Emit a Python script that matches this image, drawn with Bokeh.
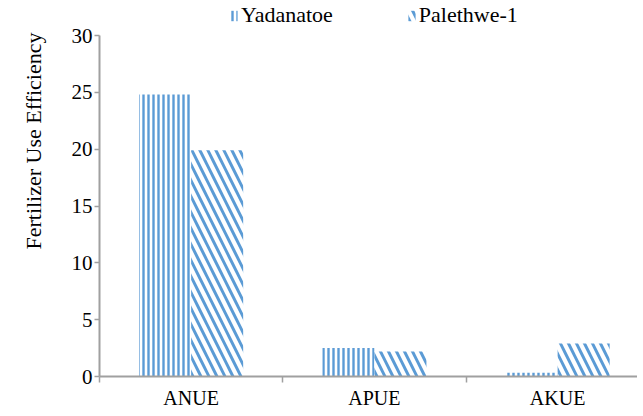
from bokeh.plotting import figure
from bokeh.models import Range1d, FixedTicker, Legend, LegendItem, Title
from bokeh.embed import file_html
from bokeh.resources import INLINE

categories = ["ANUE", "APUE", "AKUE"]
series_names = ["Yadanatoe", "Palethwe-1"]
yadanatoe = [24.8, 2.5, 0.33]
palethwe = [19.9, 2.2, 2.9]
y_ticks = [0, 5, 10, 15, 20, 25, 30]
y_title = "Fertilizer Use Efficiency"

FONT = "Liberation Serif"
BLUE = "#5B9BD5"
GRAY = "#A0A0A0"

FW = 538
cat_px = 183.25
x_end = FW / cat_px
px_per_unit = 341.0 / 30
FH = 374
y_top = FH / px_per_unit

p = figure(frame_width=FW, frame_height=FH, output_backend="svg", toolbar_location=None,
           x_range=Range1d(0, x_end), y_range=Range1d(0, y_top),
           min_border_left=0, min_border_right=0,
           min_border_top=2, min_border_bottom=36)

bar_w = 0.284
centers = [i + 0.5 for i in range(len(categories))]
xa = [c - bar_w / 2 for c in centers]
xb = [c + bar_w / 2 for c in centers]

r1 = p.vbar(x=xa, top=yadanatoe, width=bar_w, bottom=0,
            fill_color="white", line_color=None,
            hatch_pattern="|", hatch_color=BLUE, hatch_scale=5, hatch_weight=2.4)
r2 = p.vbar(x=xb, top=palethwe, width=bar_w, bottom=0,
            fill_color="white", line_color=None,
            hatch_pattern="\\", hatch_color=BLUE, hatch_scale=16, hatch_weight=3)

p.xgrid.visible = False
p.ygrid.visible = False
p.outline_line_color = None
p.background_fill_color = "white"

xax = p.xaxis[0]
xax.ticker = FixedTicker(ticks=centers, minor_ticks=[0, 1, 2, 3])
xax.major_label_overrides = {c: n for c, n in zip(centers, categories)}
xax.major_tick_line_color = None
xax.minor_tick_line_color = GRAY
xax.minor_tick_out = 6
xax.minor_tick_in = 0
xax.minor_tick_line_width = 1.5
xax.axis_line_color = GRAY
xax.axis_line_width = 2
xax.major_label_text_font = FONT
xax.major_label_text_font_size = "20px"
xax.major_label_text_color = "black"
xax.major_label_standoff = 4

yax = p.yaxis[0]
yax.ticker = FixedTicker(ticks=y_ticks, minor_ticks=[])
yax.bounds = (0, 30)
yax.major_tick_out = 5
yax.major_tick_in = 0
yax.major_tick_line_color = GRAY
yax.major_tick_line_width = 1.5
yax.axis_line_color = GRAY
yax.axis_line_width = 2
yax.major_label_text_font = FONT
yax.major_label_text_font_size = "21px"
yax.major_label_text_color = "black"
yax.major_label_standoff = 2

ttl = Title(text=y_title, align="right", offset=30, standoff=41,
            vertical_align="top",
            text_font=FONT, text_font_size="22px", text_font_style="normal",
            text_color="black")
p.add_layout(ttl, "left")

legend = Legend(items=[LegendItem(label=series_names[0], renderers=[r1]),
                       LegendItem(label=series_names[1], renderers=[r2])],
                orientation="horizontal", location=(130, 348),
                glyph_width=9, glyph_height=13, label_standoff=3, spacing=74,
                padding=0, margin=0, border_line_color=None,
                background_fill_alpha=0,
                label_text_font=FONT, label_text_font_size="22px",
                label_text_color="black")
p.add_layout(legend)

open("out.html", "w").write(file_html(p, INLINE))
